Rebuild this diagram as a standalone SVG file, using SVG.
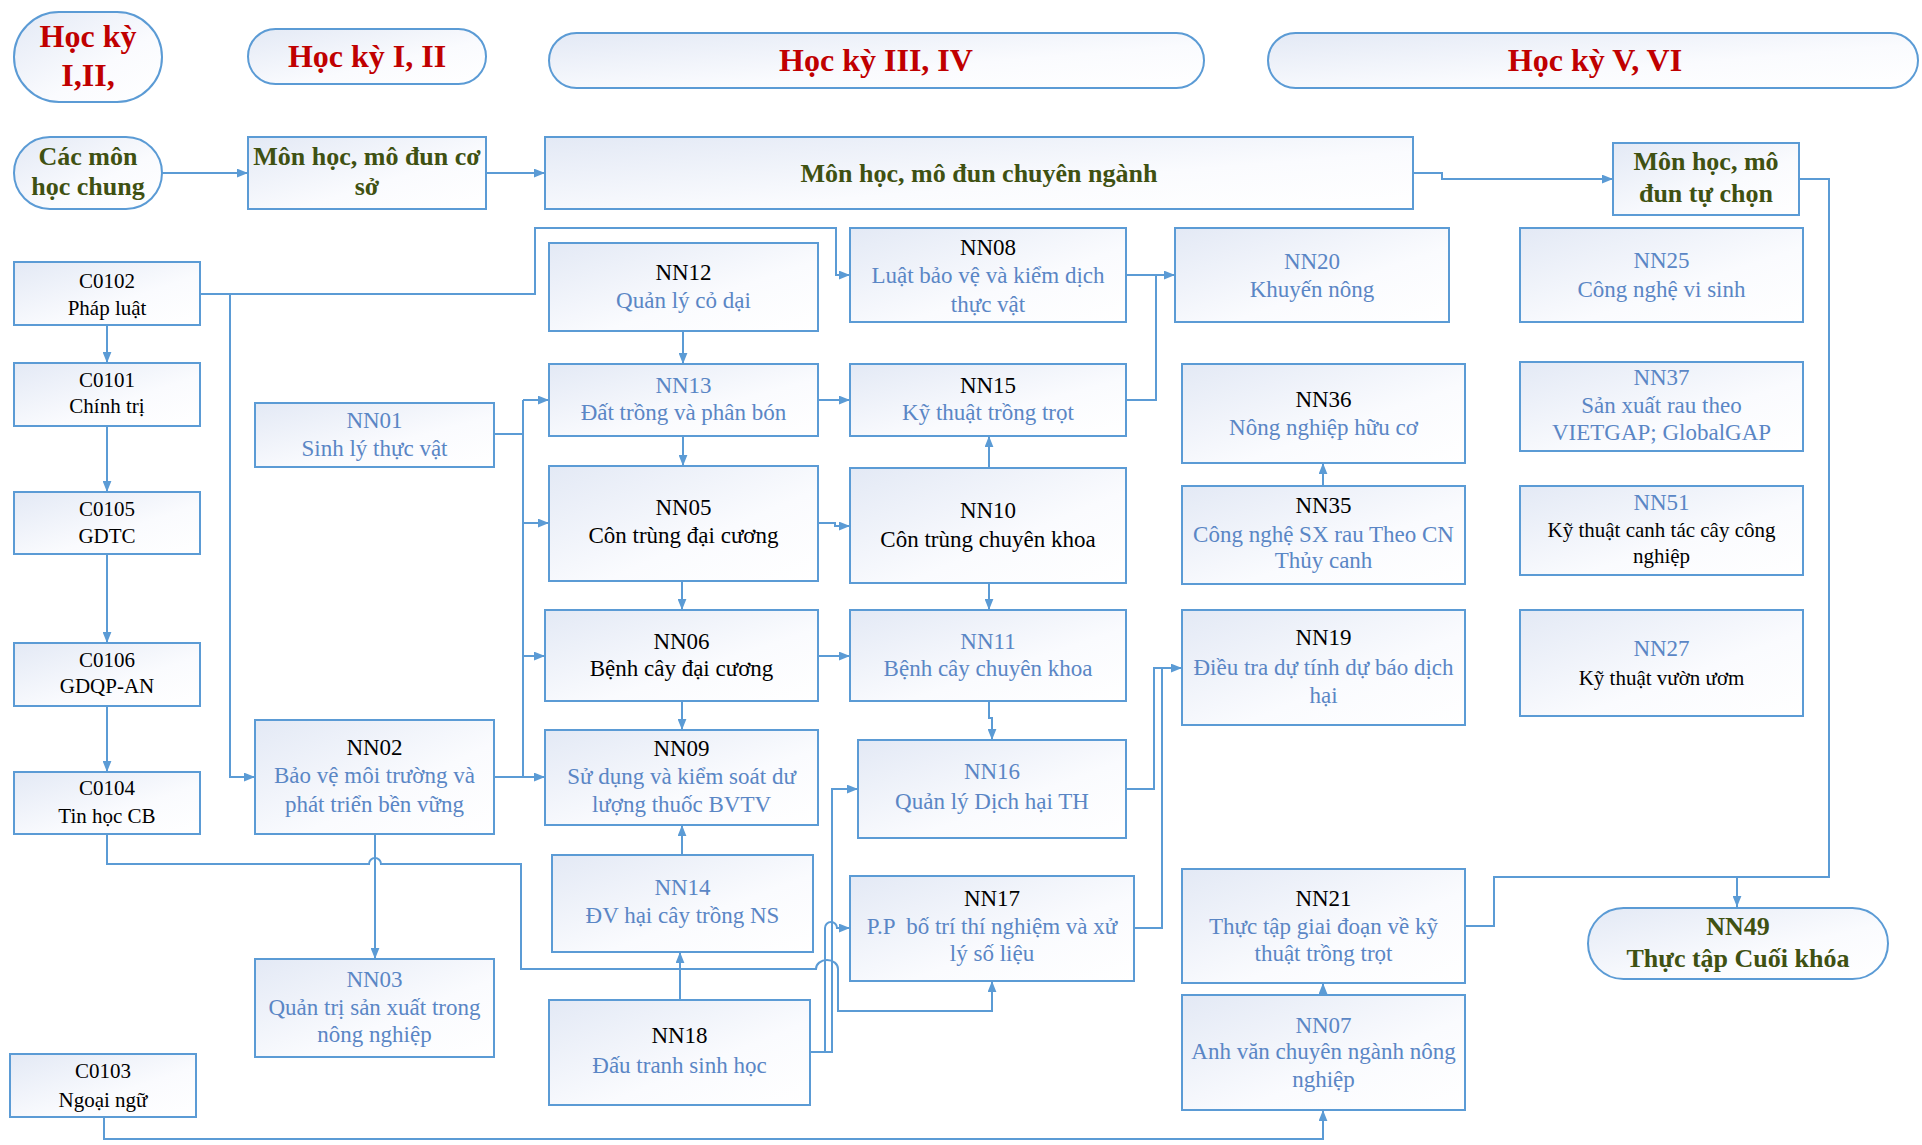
<svg xmlns="http://www.w3.org/2000/svg" width="1922" height="1145" viewBox="0 0 1922 1145">
<defs>
<linearGradient id="g" x1="0" y1="0" x2="1" y2="1">
<stop offset="0" stop-color="#E3E9F5"/>
<stop offset="0.6" stop-color="#FAFBFE"/>
<stop offset="1" stop-color="#FFFFFF"/>
</linearGradient>
<marker id="a" viewBox="0 0 10 8" refX="10" refY="4" markerWidth="11" markerHeight="9" markerUnits="userSpaceOnUse" orient="auto">
<path d="M0,0 L10,4 L0,8 z" fill="#5B9BD5"/>
</marker>
<style>
.box{fill:url(#g);stroke:#5B9BD5;stroke-width:2}
.t{font-family:"Liberation Serif","Times New Roman",serif;font-size:23px;text-anchor:middle;fill:#000}
.s{font-family:"Liberation Serif","Times New Roman",serif;font-size:21px;text-anchor:middle;fill:#000}
.u{fill:#5A86C5}
.h{font-family:"Liberation Serif","Times New Roman",serif;font-size:32px;font-weight:bold;text-anchor:middle;fill:#C00000}
.gr{font-family:"Liberation Serif","Times New Roman",serif;font-size:26px;font-weight:bold;text-anchor:middle;fill:#3F5112}
.cn{fill:none;stroke:#5B9BD5;stroke-width:2}
.ar{marker-end:url(#a)}
</style>
</defs>
<rect width="1922" height="1145" fill="#FFFFFF"/>

<g id="headers">
<g id="hk12a"><rect class="box" x="14" y="12" width="148" height="90" rx="45" ry="45"/><text class="h" x="88" y="47">Học kỳ</text><text class="h" x="88" y="86">I,II,</text></g>
<g id="hk12"><rect class="box" x="248" y="29" width="238" height="55" rx="27.5"/><text class="h" x="367" y="67">Học kỳ I, II</text></g>
<g id="hk34"><rect class="box" x="549" y="33" width="655" height="55" rx="27.5"/><text class="h" x="876" y="71">Học kỳ III, IV</text></g>
<g id="hk56"><rect class="box" x="1268" y="33" width="650" height="55" rx="27.5"/><text class="h" x="1595" y="71">Học kỳ V, VI</text></g>
</g>

<g id="categories">
<g id="cacmon"><rect class="box" x="14" y="137" width="148" height="72" rx="36"/><text class="gr" x="88" y="165">Các môn</text><text class="gr" x="88" y="195">học chung</text></g>
<g id="coso"><rect class="box" x="248" y="137" width="238" height="72"/><text class="gr" x="367" y="165">Môn học, mô đun cơ</text><text class="gr" x="367" y="195">sở</text></g>
<g id="chuyennganh"><rect class="box" x="545" y="137" width="868" height="72"/><text class="gr" x="979" y="182">Môn học, mô đun chuyên ngành</text></g>
<g id="tuchon"><rect class="box" x="1613" y="143" width="186" height="72"/><text class="gr" x="1706" y="170">Môn học, mô</text><text class="gr" x="1706" y="202">đun tự chọn</text></g>
</g>

<g id="connectors">
<path class="cn ar" d="M162 173 H248"/>
<path class="cn ar" d="M486 173 H545"/>
<path class="cn ar" d="M1413 173 H1442 V179 H1613"/>
<path class="cn ar" d="M1799 179 H1829 V877 H1737 V907"/>
<path class="cn" d="M1465 926 H1494 V877 H1737"/>
<path class="cn ar" d="M200 294 H535 V228 H836 V275 H850"/>
<path class="cn ar" d="M230 294 V777 H255"/>
<path class="cn ar" d="M107 325 V363"/>
<path class="cn ar" d="M107 426 V492"/>
<path class="cn ar" d="M107 554 V643"/>
<path class="cn ar" d="M107 706 V772"/>
<path class="cn ar" d="M107 834 V864 H369 A6 6 0 0 1 381 864 H521 V969 H816 A11 9 0 0 1 838 969 V1011 H992 V981"/>
<path class="cn ar" d="M104 1117 V1139 H1323 V1110"/>
<path class="cn" d="M494 434 H523 M523 400 V777"/>
<path class="cn ar" d="M494 777 H545"/>
<path class="cn ar" d="M523 400 H549"/>
<path class="cn ar" d="M523 523 H549"/>
<path class="cn ar" d="M523 656 H545"/>
<path class="cn ar" d="M375 834 V959"/>
<path class="cn ar" d="M683 331 V364"/>
<path class="cn ar" d="M818 400 H850"/>
<path class="cn ar" d="M683 436 V466"/>
<path class="cn ar" d="M818 523 H835 V526 H850"/>
<path class="cn ar" d="M989 468 V436"/>
<path class="cn ar" d="M682 581 V610"/>
<path class="cn ar" d="M989 583 V610"/>
<path class="cn ar" d="M818 656 H850"/>
<path class="cn ar" d="M682 701 V730"/>
<path class="cn ar" d="M682 855 V825"/>
<path class="cn ar" d="M680 1000 V952"/>
<path class="cn ar" d="M989 701 V718 H992 V740"/>
<path class="cn ar" d="M1126 789 H1154 V668 H1182"/>
<path class="cn" d="M1134 928 H1162 V668"/>
<path class="cn ar" d="M810 1052 H832 V789 H858"/>
<path class="cn ar" d="M810 1052 H825 V928 A6 6 0 0 1 837 928 H850"/>
<path class="cn ar" d="M1126 275 H1175"/>
<path class="cn" d="M1126 400 H1156 V275"/>
<path class="cn ar" d="M1323 486 V463"/>
<path class="cn ar" d="M1323 995 V983"/>
</g>

<g id="C0102"><rect class="box" x="14" y="262" width="186" height="63"/><text class="s" x="107" y="288">C0102</text><text class="s" x="107" y="315">Pháp luật</text></g>
<g id="C0101"><rect class="box" x="14" y="363" width="186" height="63"/><text class="s" x="107" y="387">C0101</text><text class="s" x="107" y="413">Chính trị</text></g>
<g id="C0105"><rect class="box" x="14" y="492" width="186" height="62"/><text class="s" x="107" y="516">C0105</text><text class="s" x="107" y="543">GDTC</text></g>
<g id="C0106"><rect class="box" x="14" y="643" width="186" height="63"/><text class="s" x="107" y="667">C0106</text><text class="s" x="107" y="693">GDQP-AN</text></g>
<g id="C0104"><rect class="box" x="14" y="772" width="186" height="62"/><text class="s" x="107" y="795">C0104</text><text class="s" x="107" y="823">Tin học CB</text></g>
<g id="C0103"><rect class="box" x="10" y="1054" width="186" height="63"/><text class="s" x="103" y="1078">C0103</text><text class="s" x="103" y="1107">Ngoại ngữ</text></g>

<g id="NN01"><rect class="box" x="255" y="403" width="239" height="64"/><text class="t u" x="374.5" y="428">NN01</text><text class="t u" x="374.5" y="456">Sinh lý thực vật</text></g>
<g id="NN02"><rect class="box" x="255" y="720" width="239" height="114"/><text class="t" x="374.5" y="755">NN02</text><text class="t u" x="374.5" y="783">Bảo vệ môi trường và</text><text class="t u" x="374.5" y="812">phát triển bền vững</text></g>
<g id="NN03"><rect class="box" x="255" y="959" width="239" height="98"/><text class="t u" x="374.5" y="987">NN03</text><text class="t u" x="374.5" y="1015">Quản trị sản xuất trong</text><text class="t u" x="374.5" y="1042">nông nghiệp</text></g>

<g id="NN12"><rect class="box" x="549" y="243" width="269" height="88"/><text class="t" x="683.5" y="280">NN12</text><text class="t u" x="683.5" y="308">Quản lý cỏ dại</text></g>
<g id="NN13"><rect class="box" x="549" y="364" width="269" height="72"/><text class="t u" x="683.5" y="393">NN13</text><text class="t u" x="683.5" y="420">Đất trồng và phân bón</text></g>
<g id="NN05"><rect class="box" x="549" y="466" width="269" height="115"/><text class="t" x="683.5" y="515">NN05</text><text class="t" x="683.5" y="543">Côn trùng đại cương</text></g>
<g id="NN06"><rect class="box" x="545" y="610" width="273" height="91"/><text class="t" x="681.5" y="649">NN06</text><text class="t" x="681.5" y="676">Bệnh cây đại cương</text></g>
<g id="NN09"><rect class="box" x="545" y="730" width="273" height="95"/><text class="t" x="681.5" y="756">NN09</text><text class="t u" x="681.5" y="784">Sử dụng và kiểm soát dư</text><text class="t u" x="681.5" y="812">lượng thuốc BVTV</text></g>
<g id="NN14"><rect class="box" x="552" y="855" width="261" height="97"/><text class="t u" x="682.5" y="895">NN14</text><text class="t u" x="682.5" y="923">ĐV hại cây trồng NS</text></g>
<g id="NN18"><rect class="box" x="549" y="1000" width="261" height="105"/><text class="t" x="679.5" y="1043">NN18</text><text class="t u" x="679.5" y="1073">Đấu tranh sinh học</text></g>

<g id="NN08"><rect class="box" x="850" y="228" width="276" height="94"/><text class="t" x="988" y="255">NN08</text><text class="t u" x="988" y="283">Luật bảo vệ và kiểm dịch</text><text class="t u" x="988" y="312">thực vật</text></g>
<g id="NN15"><rect class="box" x="850" y="364" width="276" height="72"/><text class="t" x="988" y="393">NN15</text><text class="t u" x="988" y="420">Kỹ thuật trồng trọt</text></g>
<g id="NN10"><rect class="box" x="850" y="468" width="276" height="115"/><text class="t" x="988" y="518">NN10</text><text class="t" x="988" y="547">Côn trùng chuyên khoa</text></g>
<g id="NN11"><rect class="box" x="850" y="610" width="276" height="91"/><text class="t u" x="988" y="649">NN11</text><text class="t u" x="988" y="676">Bệnh cây chuyên khoa</text></g>
<g id="NN16"><rect class="box" x="858" y="740" width="268" height="98"/><text class="t u" x="992" y="779">NN16</text><text class="t u" x="992" y="809">Quản lý Dịch hại TH</text></g>
<g id="NN17"><rect class="box" x="850" y="876" width="284" height="105"/><text class="t" x="992" y="906">NN17</text><text class="t u" x="992" y="934" xml:space="preserve">P.P  bố trí thí nghiệm và xử</text><text class="t u" x="992" y="961">lý số liệu</text></g>

<g id="NN20"><rect class="box" x="1175" y="228" width="274" height="94"/><text class="t u" x="1312" y="269">NN20</text><text class="t u" x="1312" y="297">Khuyến nông</text></g>
<g id="NN36"><rect class="box" x="1182" y="364" width="283" height="99"/><text class="t" x="1323.5" y="407">NN36</text><text class="t u" x="1323.5" y="435">Nông nghiệp hữu cơ</text></g>
<g id="NN35"><rect class="box" x="1182" y="486" width="283" height="98"/><text class="t" x="1323.5" y="513">NN35</text><text class="t u" x="1323.5" y="542">Công nghệ SX rau Theo CN</text><text class="t u" x="1323.5" y="568">Thủy canh</text></g>
<g id="NN19"><rect class="box" x="1182" y="610" width="283" height="115"/><text class="t" x="1323.5" y="645">NN19</text><text class="t u" x="1323.5" y="675">Điều tra dự tính dự báo dịch</text><text class="t u" x="1323.5" y="703">hại</text></g>
<g id="NN21"><rect class="box" x="1182" y="869" width="283" height="114"/><text class="t" x="1323.5" y="906">NN21</text><text class="t u" x="1323.5" y="934">Thực tập giai đoạn về kỹ</text><text class="t u" x="1323.5" y="961">thuật trồng trọt</text></g>
<g id="NN07"><rect class="box" x="1182" y="995" width="283" height="115"/><text class="t u" x="1323.5" y="1033">NN07</text><text class="t u" x="1323.5" y="1059">Anh văn chuyên ngành nông</text><text class="t u" x="1323.5" y="1087">nghiệp</text></g>

<g id="NN25"><rect class="box" x="1520" y="228" width="283" height="94"/><text class="t u" x="1661.5" y="268">NN25</text><text class="t u" x="1661.5" y="297">Công nghệ vi sinh</text></g>
<g id="NN37"><rect class="box" x="1520" y="362" width="283" height="89"/><text class="t u" x="1661.5" y="385">NN37</text><text class="t u" x="1661.5" y="413">Sản xuất rau theo</text><text class="t u" x="1661.5" y="440">VIETGAP; GlobalGAP</text></g>
<g id="NN51"><rect class="box" x="1520" y="486" width="283" height="89"/><text class="t u" x="1661.5" y="510">NN51</text><text class="s" x="1661.5" y="537">Kỹ thuật canh tác cây công</text><text class="s" x="1661.5" y="563">nghiệp</text></g>
<g id="NN27"><rect class="box" x="1520" y="610" width="283" height="106"/><text class="t u" x="1661.5" y="656">NN27</text><text class="s" x="1661.5" y="685">Kỹ thuật vườn ươm</text></g>

<g id="NN49"><rect class="box" x="1588" y="908" width="300" height="71" rx="35.5"/><text class="gr" x="1738" y="935">NN49</text><text class="gr" x="1738" y="967">Thực tập Cuối khóa</text></g>
</svg>
